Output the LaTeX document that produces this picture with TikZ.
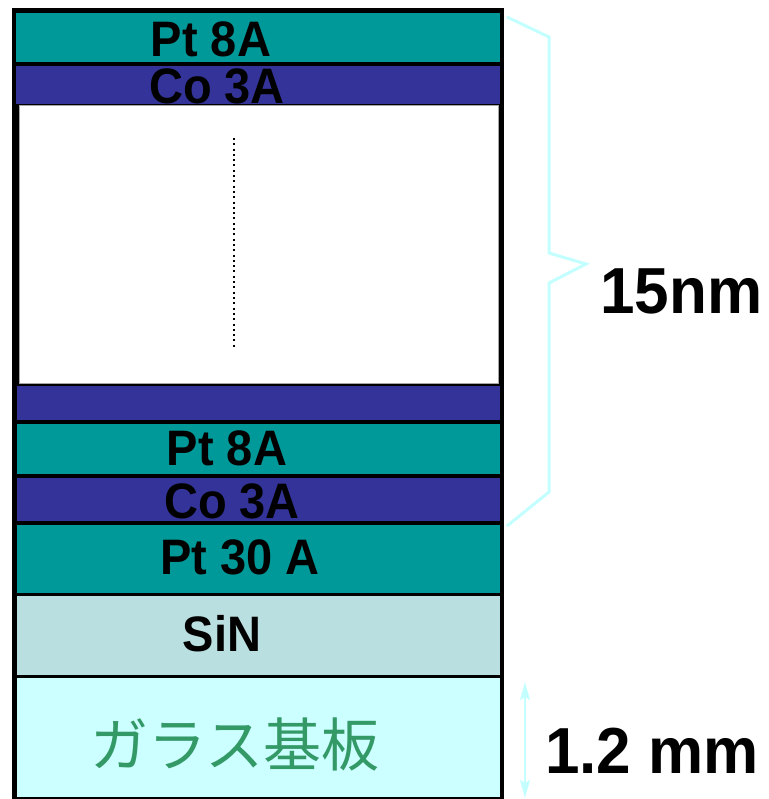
\documentclass[tikz,border=0pt]{standalone}
\usepackage{fontspec}
\setmainfont{Liberation Sans}
\newfontfamily\cjk{Noto Sans CJK JP}
\usetikzlibrary{arrows.meta}
\definecolor{ptc}{HTML}{009999}
\definecolor{coc}{HTML}{333399}
\definecolor{sinc}{HTML}{B9DFE1}
\definecolor{glassc}{HTML}{CCFFFF}
\definecolor{jpc}{HTML}{339966}
\definecolor{bracec}{HTML}{C4FFFF}
\tikzset{
  lbl/.style={anchor=base, font=\fontsize{47}{50}\selectfont\bfseries, inner sep=0pt, yscale=1.06},
  big/.style={anchor=base west, font=\fontsize{62}{66}\selectfont\bfseries, inner sep=0pt, yscale=1.05},
  bracel/.style={draw=bracec, line width=3pt},
}
\begin{document}
\begin{tikzpicture}[x=1pt,y=-1pt]
\useasboundingbox (0,0) rectangle (768,799);
\fill[white] (0,0) rectangle (768,799);
% frame
\fill[black] (12,8) rectangle (504,800);
% layers
\fill[ptc] (16,13) rectangle (500,62);
\fill[coc] (16,66) rectangle (500,104);
\fill[coc] (17,386) rectangle (500,420);
\fill[ptc] (17,424) rectangle (500,474);
\fill[coc] (17,478) rectangle (500,521);
\fill[ptc] (17,525) rectangle (500,593);
\fill[sinc] (17,596) rectangle (500,675);
\fill[glassc] (17,678) rectangle (500,797);
% labels
\node[lbl] (t1) at (211,57) {Pt 8A};
\node[lbl] (t2) at (217,104) {Co 3A};
% white gap region (covers bottom of Co label)
\fill[white, draw=gray!70, line width=1pt] (19,106) rectangle (498,383);
\draw[line width=2pt, dash pattern=on 2pt off 3.3pt] (234,138) -- (234,348);
\node[lbl] (t3) at (227,465) {Pt 8A};
\node[lbl] (t4) at (232,518) {Co 3A};
\node[lbl] (t5) at (240,574) {Pt 30 A};
\node[lbl] (t6) at (222,651) {SiN};
\node[anchor=base, inner sep=0pt, text=jpc, font=\cjk\fontsize{58}{60}\selectfont] (t7) at (235,766) {ガラス基板};
% brace
\draw[bracel, line join=miter] (507,17) -- (549,37) -- (549,253) -- (586,264) -- (549,283) -- (549,492) -- (507,526);
\node[big] (nm) at (600,313) {15nm};
% thickness arrow
\coordinate (a1) at (525,682);
\coordinate (a2) at (525,798);
\draw[draw=bracec, line width=1.5pt, {Stealth[length=18pt,width=10pt,inset=3pt]}-{Stealth[length=18pt,width=10pt,inset=3pt]}] (a1) -- (a2);
\node[big] (mm) at (545,773) {1.2 mm};
\end{tikzpicture}
\end{document}
